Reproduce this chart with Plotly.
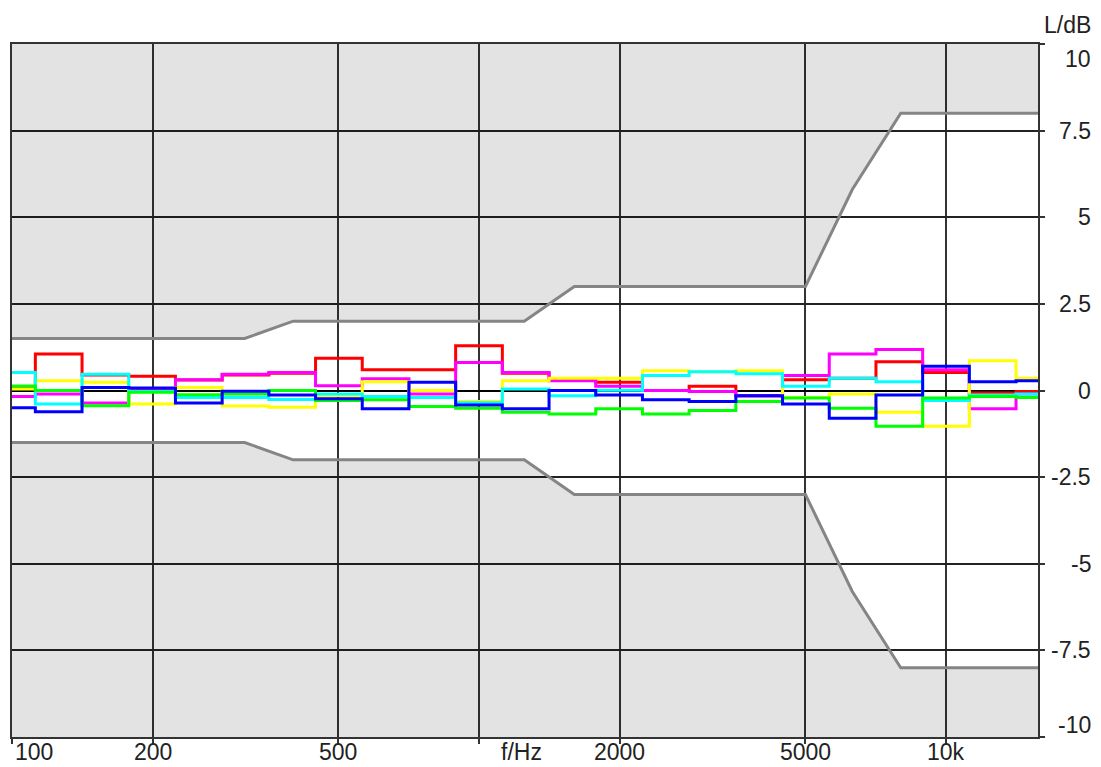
import numpy as np
import plotly.graph_objects as go

# third-octave band centre frequencies (Hz)
bands = [100, 125, 160, 200, 250, 315, 400, 500, 630, 800, 1000, 1250,
         1600, 2000, 2500, 3150, 4000, 5000, 6300, 8000, 10000, 12500, 16000]

# level deviation per band (dB) for six measurements
red     = [0.10, 1.05, 0.45, 0.41, 0.30, 0.45, 0.50, 0.93, 0.60, 0.60, 1.29, 0.50,
           0.30, 0.24, 0.00, 0.12, -0.15, 0.31, 0.35, 0.83, 0.52, -0.07, -0.03]
magenta = [-0.17, -0.10, -0.36, 0.05, 0.31, 0.47, 0.52, 0.14, 0.34, -0.10, 0.81, 0.52,
           0.28, 0.12, 0.00, -0.03, -0.15, 0.43, 1.05, 1.18, 0.60, -0.53, -0.10]
yellow  = [0.04, 0.28, 0.24, -0.39, 0.09, -0.45, -0.48, -0.15, 0.25, 0.00, -0.32, 0.28,
           0.35, 0.35, 0.57, 0.54, 0.57, -0.20, -0.10, -0.63, -1.03, 0.86, 0.35]
cyan    = [0.52, -0.39, 0.47, -0.03, -0.20, -0.20, -0.26, -0.10, -0.17, -0.20, -0.35, 0.04,
           -0.15, 0.01, 0.43, 0.54, 0.48, 0.12, 0.35, 0.25, -0.29, -0.13, -0.10]
green   = [0.13, 0.00, -0.44, -0.05, -0.12, -0.10, 0.00, -0.29, -0.27, -0.46, -0.51, -0.63,
           -0.68, -0.53, -0.68, -0.58, -0.32, -0.22, -0.51, -1.03, -0.22, -0.17, -0.20]
blue    = [-0.50, -0.61, 0.09, 0.07, -0.36, -0.02, -0.13, -0.24, -0.53, 0.24, -0.42, -0.53,
           0.00, -0.13, -0.27, -0.32, -0.15, -0.39, -0.80, -0.13, 0.70, 0.25, 0.28]

series = [("red", red, "#ff0000"), ("magenta", magenta, "#ff00ff"),
          ("yellow", yellow, "#ffff00"), ("cyan", cyan, "#00ffff"),
          ("green", green, "#00ff00"), ("blue", blue, "#0000ff")]

# tolerance mask
tol_freq  = [100, 315, 400, 1250, 1600, 5000, 6300, 8000, 16000]
tol_upper = [1.5, 1.5, 2.0, 2.0, 3.0, 3.0, 5.8, 8.0, 8.0]
tol_lower = [-1.5, -1.5, -2.0, -2.0, -3.0, -3.0, -5.8, -8.0, -8.0]

# axes
x_range_hz = [100, 15740]
y_range = [-10, 10]
x_tickvals = [100, 200, 500, 1000, 2000, 5000, 10000]
x_ticktext = ["100", "200", "500", "f/Hz", "2000", "5000", "10k"]
y_tickvals = [-10, -7.5, -5, -2.5, 0, 2.5, 5, 7.5, 10]
y_ticktext = ["-10", "-7.5", "-5", "-2.5", "0", "2.5", "5", "7.5", "10"]

# band edges (base-10 third octaves)
log_c = np.round(10 * np.log10(bands)) / 10
edges_lo = 10 ** (log_c - 0.05)
edges_hi = 10 ** (log_c + 0.05)
x_steps = list(edges_lo) + [edges_hi[-1]]

fig = go.Figure()

GRAY_FILL = "rgba(0,0,0,0.11)"
TOL_COLOR = "#858585"

# upper grey area
fig.add_trace(go.Scatter(x=tol_freq, y=[y_range[1]] * len(tol_freq), mode="lines",
                         line=dict(width=0), hoverinfo="skip", showlegend=False))
fig.add_trace(go.Scatter(x=tol_freq, y=tol_upper, mode="lines", fill="tonexty",
                         fillcolor=GRAY_FILL, line=dict(color=TOL_COLOR, width=3),
                         hoverinfo="skip", showlegend=False))
# lower grey area
fig.add_trace(go.Scatter(x=tol_freq, y=[y_range[0]] * len(tol_freq), mode="lines",
                         line=dict(width=0), hoverinfo="skip", showlegend=False))
fig.add_trace(go.Scatter(x=tol_freq, y=tol_lower, mode="lines", fill="tonexty",
                         fillcolor=GRAY_FILL, line=dict(color=TOL_COLOR, width=3),
                         hoverinfo="skip", showlegend=False))

for name, vals, col in series:
    fig.add_trace(go.Scatter(x=x_steps, y=list(vals) + [vals[-1]], mode="lines",
                             line=dict(color=col, width=3, shape="hv"),
                             name=name, showlegend=False, hoverinfo="skip"))

FONT = dict(family="Liberation Sans, Arial, sans-serif", size=23, color="#222222")
annotations = []
for v, t in zip(y_tickvals, y_ticktext):
    shift = 0
    if v == y_range[1]:
        shift = -15
    elif v == y_range[0]:
        shift = 12
    annotations.append(dict(xref="paper", x=1, xshift=55, xanchor="right",
                            yref="y", y=v, yshift=shift, yanchor="middle",
                            text=t, showarrow=False, font=FONT))
annotations.append(dict(xref="paper", x=1, xshift=55, xanchor="right",
                        yref="paper", y=1, yshift=19, yanchor="middle",
                        text="L/dB", showarrow=False, font=FONT))
for v, t in zip(x_tickvals, x_ticktext):
    if t == "100":
        xa, xs = "left", 1
    elif t == "f/Hz":
        xa, xs = "left", 20
    else:
        xa, xs = "center", 0
    annotations.append(dict(xref="x", x=np.log10(v), xanchor=xa, xshift=xs,
                            yref="paper", y=0, yshift=-15, yanchor="middle",
                            text=t, showarrow=False, font=FONT))

AX_COLOR = "#333333"
fig.update_layout(
    width=1101, height=767,
    margin=dict(l=10, r=63, t=44, b=30),
    paper_bgcolor="white", plot_bgcolor="white",
    showlegend=False,
    annotations=annotations,
    xaxis=dict(type="log", range=[np.log10(x_range_hz[0]), np.log10(x_range_hz[1])],
               tickvals=x_tickvals, showticklabels=False,
               ticks="outside", ticklen=5, tickwidth=1.5, tickcolor=AX_COLOR,
               showgrid=True, gridcolor=AX_COLOR, gridwidth=1.6,
               showline=True, linecolor=AX_COLOR, linewidth=2, mirror=True,
               zeroline=False),
    yaxis=dict(range=y_range, side="right", tickvals=y_tickvals, showticklabels=False,
               ticks="outside", ticklen=5, tickwidth=1.5, tickcolor=AX_COLOR,
               showgrid=True, gridcolor="#222222", gridwidth=1.6,
               showline=True, linecolor=AX_COLOR, linewidth=2, mirror=True,
               zeroline=True, zerolinecolor="#000000", zerolinewidth=1.5),
)

fig.write_html("out.html", config={"displayModeBar": False},
               post_script="document.body.style.margin='0';")
